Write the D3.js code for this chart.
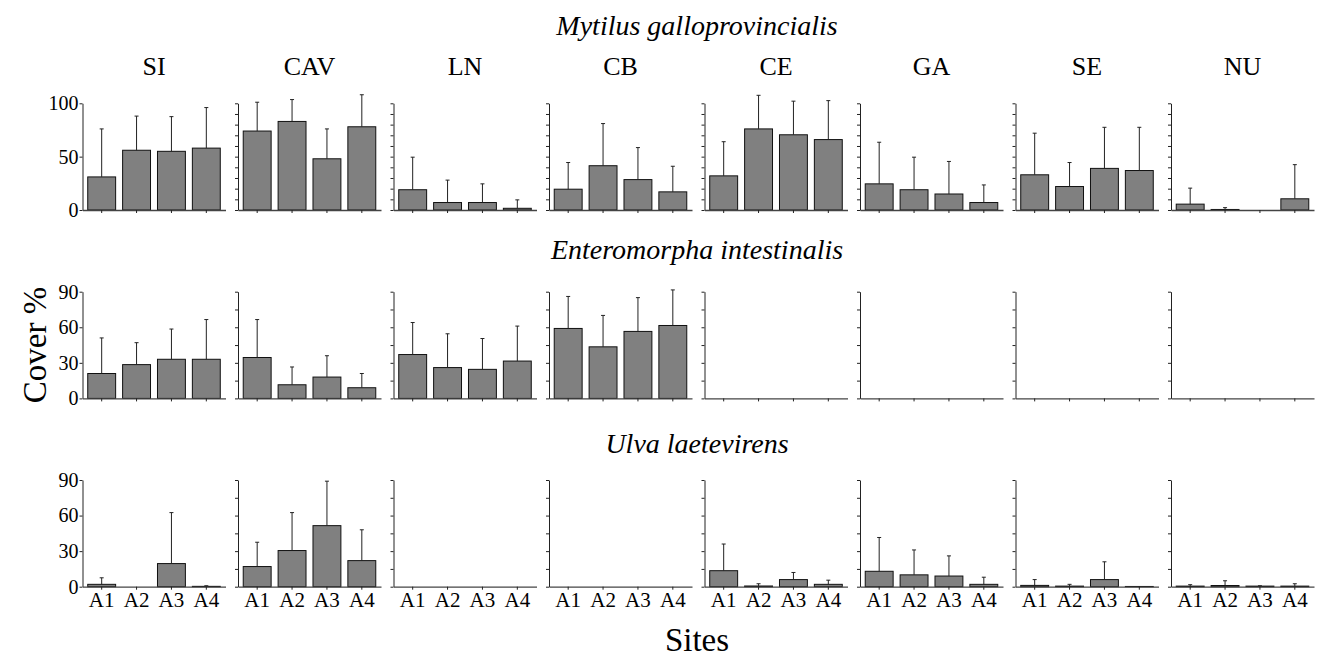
<!DOCTYPE html>
<html>
<head>
<meta charset="utf-8">
<script src="https://cdn.jsdelivr.net/npm/d3@7"></script>
<style>
  body { margin: 0; background: #fff; }
  svg { display: block; }
  svg text { font-family: "Liberation Serif", "Times New Roman", serif; }
</style>
</head>
<body>
<svg id="chart" width="1324" height="660"></svg>
<script>
'use strict'

// sites and sampling areas
var sites = ['SI', 'CAV', 'LN', 'CB', 'CE', 'GA', 'SE', 'NU']
var areas = ['A1', 'A2', 'A3', 'A4']
var species = ['Mytilus galloprovincialis', 'Enteromorpha intestinalis', 'Ulva laetevirens']

// mean cover % (one row per site, one value per area)
var mytilusMean = [
  [31, 56, 55, 58], [74, 83, 48, 78], [19, 7, 7, 1.6], [19.5, 41.5, 28.5, 17],
  [32, 76, 70.5, 66], [24.5, 19, 15, 7], [33, 22, 39, 37], [5.5, 0.5, 0, 10.5]
]
var mytilusErr = [
  [76, 88, 87.5, 96], [101, 103.5, 76, 108], [49.5, 28, 24.5, 9.5], [44.5, 81, 58.5, 41],
  [64, 107.5, 102, 102.5], [63.5, 49.5, 45.5, 23.5], [72, 44.5, 77.5, 77.5], [20.5, 2.2, 0, 42.5]
]
var enteroMean = [
  [21, 28.5, 33, 33], [34.5, 11.5, 18, 9], [37, 26, 24.5, 31.5], [59, 43.5, 56.5, 61.5],
  [0, 0, 0, 0], [0, 0, 0, 0], [0, 0, 0, 0], [0, 0, 0, 0]
]
var enteroErr = [
  [51, 47, 58.5, 66.5], [66.5, 26.5, 36, 21], [64, 54.5, 50.5, 61], [86, 70, 85, 91.5],
  [0, 0, 0, 0], [0, 0, 0, 0], [0, 0, 0, 0], [0, 0, 0, 0]
]
var ulvaMean = [
  [2, 0, 19.5, 0.3], [17, 30.5, 51.5, 22], [0, 0, 0, 0], [0, 0, 0, 0],
  [13.5, 0.6, 6, 2], [13, 10, 9, 2], [1.1, 0.5, 6, 0.2], [0.5, 1, 0.5, 0.5]
]
var ulvaErr = [
  [7.5, 0, 62.5, 0.8], [37.5, 62.5, 89, 48], [0, 0, 0, 0], [0, 0, 0, 0],
  [36, 2.5, 12, 5.5], [41.5, 31, 26, 8], [6, 2, 21, 0], [1.7, 5, 0.8, 2.5]
]

var yMax = [100, 90, 90]
var yLabels = [[0, 50, 100], [0, 30, 60, 90], [0, 30, 60, 90]]
var yMinorStep = [10, 15, 15]

var means = [mytilusMean, enteroMean, ulvaMean]
var errs = [mytilusErr, enteroErr, ulvaErr]

var serif = '"Liberation Serif", "Times New Roman", serif'
var svg = d3.select('#chart')

var left0 = 82.5
var panelStep = 155.5
var panelW = 143
var panelH = 106.7
var rowTop = [103.3, 291.7, 480]
var titleY = [35, 259, 453]

var x = d3.scaleBand()
  .domain(areas)
  .range([0, panelW])
  .paddingInner(0.2)
  .paddingOuter(0.15)

species.forEach(function (sp, r) {
  var y = d3.scaleLinear().domain([0, yMax[r]]).range([panelH, 0])

  // species title
  svg.append('text')
    .attr('x', 697)
    .attr('y', titleY[r])
    .attr('text-anchor', 'middle')
    .attr('font-family', serif)
    .attr('font-style', 'italic')
    .attr('font-size', 28)
    .text(sp)

  sites.forEach(function (site, c) {
    var g = svg.append('g')
      .attr('transform', 'translate(' + (left0 + c * panelStep) + ',' + rowTop[r] + ')')

    if (r === 0) {
      g.append('text')
        .attr('x', panelW / 2)
        .attr('y', -28)
        .attr('text-anchor', 'middle')
        .attr('font-family', serif)
        .attr('font-size', 26)
        .text(site)
    }

    var data = areas.map(function (a, i) {
      return { area: a, mean: means[r][c][i], err: errs[r][c][i] }
    })

    // bars
    g.selectAll('rect.bar')
      .data(data.filter(function (d) { return d.mean > 0 }))
      .enter().append('rect')
      .attr('class', 'bar')
      .attr('x', function (d) { return x(d.area) })
      .attr('width', x.bandwidth())
      .attr('y', function (d) { return y(d.mean) })
      .attr('height', function (d) { return panelH - y(d.mean) })
      .attr('fill', '#808080')
      .attr('stroke', '#111')
      .attr('stroke-width', 1)

    // error bars
    var eb = g.selectAll('g.err')
      .data(data.filter(function (d) { return d.err > d.mean }))
      .enter().append('g')
      .attr('class', 'err')
      .attr('stroke', '#222')
      .attr('stroke-width', 1)
    eb.append('line')
      .attr('x1', function (d) { return x(d.area) + x.bandwidth() / 2 })
      .attr('x2', function (d) { return x(d.area) + x.bandwidth() / 2 })
      .attr('y1', function (d) { return y(d.mean) })
      .attr('y2', function (d) { return y(d.err) })
    eb.append('line')
      .attr('x1', function (d) { return x(d.area) + x.bandwidth() / 2 - 2 })
      .attr('x2', function (d) { return x(d.area) + x.bandwidth() / 2 + 2 })
      .attr('y1', function (d) { return y(d.err) })
      .attr('y2', function (d) { return y(d.err) })

    // y axis
    var minor = d3.range(0, yMax[r] + 0.01, yMinorStep[r])
    var yAxis = d3.axisLeft(y)
      .tickValues(c === 0 ? yLabels[r] : minor)
      .tickSize(3)
      .tickSizeOuter(0)
      .tickPadding(1)
      .tickFormat(c === 0 ? d3.format('d') : '')
    var ya = g.append('g').call(yAxis)
    ya.select('.domain').attr('stroke', '#222')
    ya.selectAll('.tick line').attr('stroke', '#222')
    ya.selectAll('.tick text')
      .attr('fill', '#000')
      .style('font-family', serif)
      .style('font-size', '20px')

    // x axis
    var xAxis = d3.axisBottom(x)
      .tickSize(3)
      .tickSizeOuter(0)
      .tickPadding(2)
      .tickFormat(r === 2 ? null : '')
    var xa = g.append('g')
      .attr('transform', 'translate(0,' + panelH + ')')
      .call(xAxis)
    xa.select('.domain').attr('stroke', '#444').attr('stroke-width', 1.3)
    xa.selectAll('.tick line').attr('stroke', '#222')
    xa.selectAll('.tick text')
      .attr('fill', '#000')
      .style('font-family', serif)
      .style('font-size', '21px')
  })
})

// axis titles
svg.append('text')
  .attr('transform', 'translate(46,345) rotate(-90)')
  .attr('text-anchor', 'middle')
  .attr('font-family', serif)
  .attr('font-size', 33)
  .text('Cover %')

svg.append('text')
  .attr('x', 697)
  .attr('y', 651)
  .attr('text-anchor', 'middle')
  .attr('font-family', serif)
  .attr('font-size', 33)
  .text('Sites')
</script>
</body>
</html>
